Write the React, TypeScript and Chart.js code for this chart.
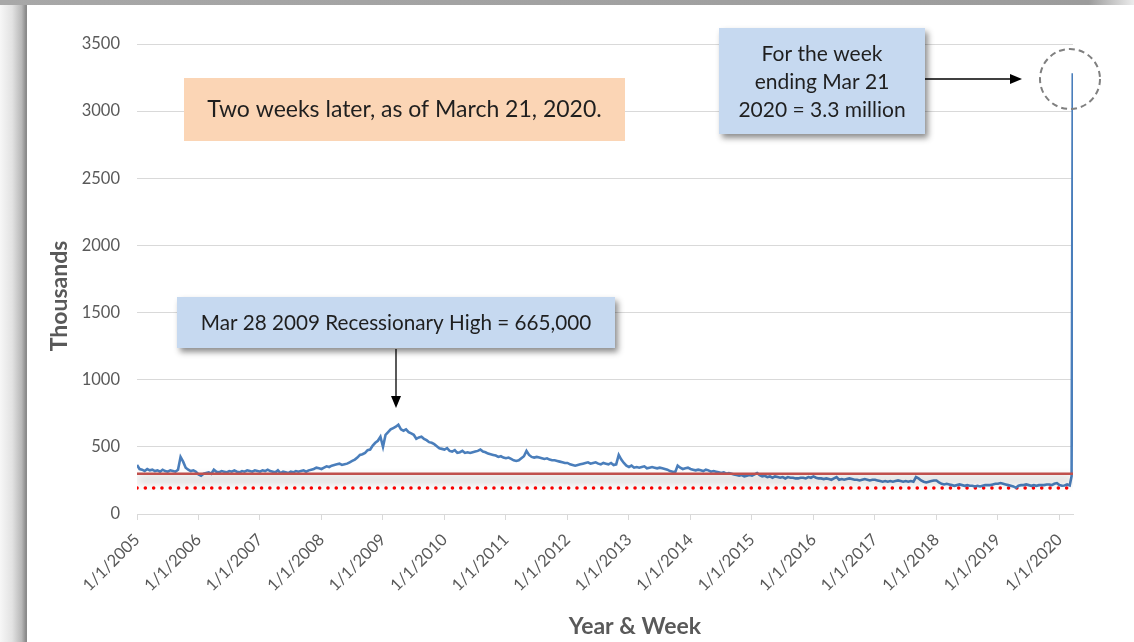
import React, { useEffect, useRef } from "react";
import { Chart, registerables } from "chart.js";

Chart.register(...registerables);

// ---------- data (thousands of initial jobless claims) ----------
const yearTicks = [2005, 2006, 2007, 2008, 2009, 2010, 2011, 2012, 2013, 2014, 2015, 2016, 2017, 2018, 2019, 2020];
const yearLabels = ["1/1/2005", "1/1/2006", "1/1/2007", "1/1/2008", "1/1/2009", "1/1/2010", "1/1/2011", "1/1/2012", "1/1/2013", "1/1/2014", "1/1/2015", "1/1/2016", "1/1/2017", "1/1/2018", "1/1/2019", "1/1/2020"];

// semi-monthly readings, 24 per year
const claims2005 = [365, 335, 330, 320, 335, 325, 330, 320, 325, 315, 330, 320, 315, 325, 320, 315, 330, 425, 390, 345, 330, 320, 325, 315];
const claims2006 = [295, 285, 300, 305, 310, 300, 330, 315, 310, 320, 315, 310, 320, 315, 325, 315, 310, 320, 315, 325, 320, 315, 325, 320];
const claims2007 = [315, 325, 320, 330, 320, 315, 310, 325, 305, 315, 310, 305, 315, 310, 320, 315, 320, 325, 315, 325, 330, 335, 345, 340];
const claims2008 = [335, 345, 355, 350, 360, 365, 370, 375, 365, 370, 375, 385, 395, 405, 420, 440, 445, 455, 475, 480, 510, 530, 545, 575];
const claims2009 = [500, 590, 610, 630, 640, 650, 665, 630, 620, 630, 610, 600, 590, 560, 570, 575, 560, 550, 535, 530, 520, 505, 490, 485];
const claims2010 = [480, 490, 470, 465, 475, 455, 460, 470, 455, 460, 455, 460, 465, 470, 480, 465, 460, 450, 445, 440, 435, 425, 430, 420];
const claims2011 = [415, 420, 410, 400, 395, 400, 415, 430, 470, 440, 425, 420, 425, 420, 415, 410, 415, 405, 400, 400, 395, 390, 385, 380];
const claims2012 = [380, 370, 365, 360, 365, 370, 375, 380, 385, 375, 380, 385, 375, 370, 380, 375, 370, 380, 365, 370, 440, 405, 380, 360];
const claims2013 = [350, 360, 345, 350, 345, 350, 355, 340, 345, 350, 345, 340, 345, 340, 335, 330, 320, 315, 310, 360, 345, 335, 340, 345];
const claims2014 = [335, 330, 325, 330, 325, 320, 330, 325, 315, 320, 315, 310, 305, 310, 300, 305, 300, 295, 290, 285, 290, 280, 285, 290];
const claims2015 = [285, 295, 305, 290, 280, 285, 275, 280, 270, 280, 275, 270, 275, 265, 275, 270, 270, 265, 265, 270, 270, 265, 275, 270];
const claims2016 = [280, 270, 265, 265, 260, 265, 260, 255, 265, 275, 255, 260, 255, 260, 265, 260, 255, 255, 250, 255, 260, 255, 250, 255];
const claims2017 = [255, 250, 245, 240, 245, 240, 245, 240, 245, 250, 245, 240, 245, 240, 245, 240, 275, 265, 250, 240, 235, 240, 245, 250];
const claims2018 = [250, 235, 225, 220, 225, 220, 215, 210, 215, 220, 215, 210, 215, 210, 210, 205, 210, 205, 210, 215, 215, 215, 220, 225];
const claims2019 = [225, 230, 225, 220, 215, 210, 205, 195, 210, 215, 215, 220, 215, 210, 215, 210, 215, 215, 215, 220, 220, 215, 225, 230];
const claims2020 = [215, 210, 212, 220, 212];

// final two weeks: Mar 14 and Mar 21, 2020
const finalWeekDates = [2020.197, 2020.216];
const finalWeekClaims = [282, 3283];

const averageLevel = 300;
const lowLevel = 193;
const xMin = 2005;
const xMax = 2020.22;
const yMax = 3500;
const yStep = 500;

const yearlyClaims = [claims2005, claims2006, claims2007, claims2008, claims2009, claims2010, claims2011, claims2012, claims2013, claims2014, claims2015, claims2016, claims2017, claims2018, claims2019, claims2020];

const W = 1134;
const H = 642;
const FONT = "Lato, 'Open Sans', sans-serif";

function buildPoints() {
  const pts: { x: number; y: number }[] = [];
  yearlyClaims.forEach((arr, k) => {
    arr.forEach((v, i) => pts.push({ x: yearTicks[k] + i / 24, y: v }));
  });
  finalWeekDates.forEach((d, i) => pts.push({ x: d, y: finalWeekClaims[i] }));
  return pts;
}

function arrow(ctx: CanvasRenderingContext2D, x1: number, y1: number, x2: number, y2: number) {
  const ang = Math.atan2(y2 - y1, x2 - x1);
  const head = 12;
  const half = 5;
  const bx = x2 - head * Math.cos(ang);
  const by = y2 - head * Math.sin(ang);
  ctx.strokeStyle = "#000";
  ctx.lineWidth = 1.3;
  ctx.beginPath();
  ctx.moveTo(x1, y1);
  ctx.lineTo(bx, by);
  ctx.stroke();
  ctx.fillStyle = "#000";
  ctx.beginPath();
  ctx.moveTo(x2, y2);
  ctx.lineTo(bx + half * Math.sin(ang), by - half * Math.cos(ang));
  ctx.lineTo(bx - half * Math.sin(ang), by + half * Math.cos(ang));
  ctx.closePath();
  ctx.fill();
}

function shadowBox(ctx: CanvasRenderingContext2D, x: number, y: number, w: number, h: number, color: string) {
  ctx.save();
  ctx.shadowColor = "rgba(0,0,0,0.45)";
  ctx.shadowBlur = 6;
  ctx.shadowOffsetX = 3;
  ctx.shadowOffsetY = 4;
  ctx.fillStyle = color;
  ctx.fillRect(x, y, w, h);
  ctx.restore();
}

const decorPlugin = {
  id: "decor",
  beforeDraw(chart: any) {
    const ctx: CanvasRenderingContext2D = chart.ctx;
    ctx.save();
    ctx.fillStyle = "#fff";
    ctx.fillRect(0, 0, W, H);
    const g = ctx.createLinearGradient(0, 0, 27, 0);
    g.addColorStop(0, "#f7f7f7");
    g.addColorStop(0.45, "#e2e2e2");
    g.addColorStop(0.8, "#b8b8b8");
    g.addColorStop(0.96, "#8a8a8a");
    g.addColorStop(1, "#8a8a8a");
    ctx.fillStyle = g;
    ctx.fillRect(0, 0, 27, H);
    const g2 = ctx.createLinearGradient(0, 0, W, 0);
    g2.addColorStop(0, "#a8a8a8");
    g2.addColorStop(0.96, "#9c9c9c");
    g2.addColorStop(1, "#ececec");
    ctx.fillStyle = g2;
    ctx.fillRect(0, 0, W, 5);
    ctx.restore();
  },
  beforeDatasetDraw(chart: any, args: any) {
    if (args.index === 1) {
      const ctx = chart.ctx;
      ctx.save();
      ctx.shadowColor = "rgba(0,0,0,0.45)";
      ctx.shadowBlur = 10;
      ctx.shadowOffsetY = 6;
    }
  },
  afterDatasetDraw(chart: any, args: any) {
    if (args.index === 1) chart.ctx.restore();
  },
  afterDraw(chart: any) {
    const ctx: CanvasRenderingContext2D = chart.ctx;
    ctx.save();
    // axis titles
    ctx.fillStyle = "#595959";
    ctx.font = `bold 23px ${FONT}`;
    ctx.textAlign = "center";
    ctx.textBaseline = "middle";
    ctx.fillText("Year & Week", 635, 627);
    ctx.save();
    ctx.translate(60, 296);
    ctx.rotate(-Math.PI / 2);
    ctx.fillText("Thousands", 0, 0);
    ctx.restore();

    // peach note
    ctx.fillStyle = "#FBD5B5";
    ctx.fillRect(184, 78, 441, 63);
    ctx.fillStyle = "#1f1f1f";
    ctx.font = `23px ${FONT}`;
    ctx.fillText("Two weeks later, as of March 21, 2020.", 404.5, 110);

    // recession callout
    shadowBox(ctx, 177, 297, 438, 51, "#C6D9F0");
    ctx.fillStyle = "#1f1f1f";
    ctx.font = `20.7px ${FONT}`;
    ctx.fillText("Mar 28 2009 Recessionary High = 665,000", 396, 323);
    arrow(ctx, 396, 349, 396, 408);

    // 2020 callout
    shadowBox(ctx, 719, 28, 206, 106, "#C6D9F0");
    ctx.fillStyle = "#1f1f1f";
    ctx.font = `21px ${FONT}`;
    ctx.fillText("For the week", 822, 54);
    ctx.fillText("ending Mar 21", 822, 82);
    ctx.fillText("2020 = 3.3 million", 822, 110);
    arrow(ctx, 925, 79, 1022, 79);

    // dashed circle
    ctx.strokeStyle = "#808080";
    ctx.lineWidth = 2;
    ctx.setLineDash([6, 4]);
    ctx.beginPath();
    ctx.arc(1070, 79, 30, 0, Math.PI * 2);
    ctx.stroke();
    ctx.restore();
  },
};

export default function App() {
  const ref = useRef<HTMLCanvasElement | null>(null);
  useEffect(() => {
    if (!ref.current) return;
    const chart = new Chart(ref.current, {
      type: "line",
      data: {
        datasets: [
          {
            label: "Initial claims",
            data: buildPoints(),
            borderColor: "#4A7EBB",
            borderWidth: 2.6,
            pointRadius: 0,
            tension: 0,
            order: 2,
          },
          {
            label: "Average",
            data: [
              { x: xMin, y: averageLevel },
              { x: xMax, y: averageLevel },
            ],
            borderColor: "#C0504D",
            borderWidth: 2.5,
            pointRadius: 0,
            order: 1,
          },
          {
            label: "Low",
            data: [
              { x: xMin, y: lowLevel },
              { x: xMax, y: lowLevel },
            ],
            borderColor: "#FF0000",
            borderWidth: 3.5,
            borderCapStyle: "round",
            borderDash: [0.1, 8.2],
            pointRadius: 0,
            order: 3,
          },
        ],
      },
      options: {
        animation: false,
        responsive: false,
        maintainAspectRatio: false,
        layout: { padding: { left: 0, right: 61, top: 44, bottom: 0 } },
        plugins: { legend: { display: false }, tooltip: { enabled: false }, title: { display: false } },
        scales: {
          x: {
            type: "linear",
            min: xMin,
            max: xMax,
            afterBuildTicks: (scale: any) => {
              scale.ticks = yearTicks.map((v) => ({ value: v }));
            },
            afterFit: (scale: any) => {
              scale.height = H - 514;
            },
            ticks: {
              autoSkip: false,
              minRotation: 45,
              maxRotation: 45,
              padding: 10,
              color: "#595959",
              font: { family: FONT, size: 16.5 },
              callback: (v: any) => {
                const i = yearTicks.indexOf(Number(v));
                return i >= 0 ? yearLabels[i] : "";
              },
            },
            grid: { drawOnChartArea: false, drawTicks: true, tickLength: 6, color: "#d9d9d9" },
            border: { display: true, color: "#d9d9d9", width: 1 },
          },
          y: {
            min: 0,
            max: yMax,
            afterFit: (scale: any) => {
              scale.width = 137;
            },
            ticks: {
              stepSize: yStep,
              padding: 17,
              color: "#595959",
              font: { family: FONT, size: 16.5 },
              callback: (v: any) => String(v),
            },
            grid: { color: "#d9d9d9", drawTicks: false, lineWidth: 1 },
            border: { display: false },
          },
        },
      },
      plugins: [decorPlugin],
    });
    return () => chart.destroy();
  }, []);
  return (
    <div style={{ position: "absolute", left: 0, top: 0, width: W, height: H }}>
      <canvas ref={ref} width={W} height={H} style={{ display: "block", width: W, height: H }} />
    </div>
  );
}
